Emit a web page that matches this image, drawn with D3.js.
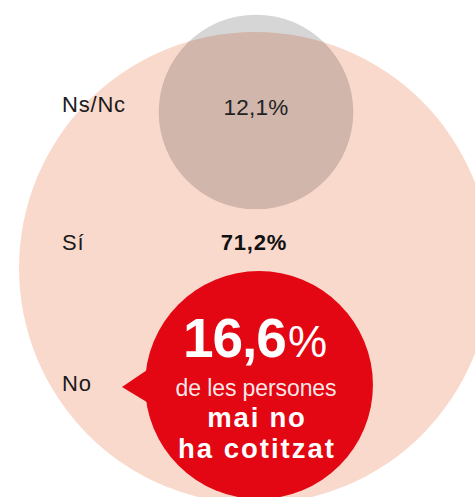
<!DOCTYPE html>
<html>
<head>
<meta charset="utf-8">
<script src="https://cdn.jsdelivr.net/npm/d3@7"></script>
<style>
  html, body { margin: 0; padding: 0; background: #fff; }
  svg { display: block; }
  text { font-family: "Liberation Sans", Arial, Helvetica, sans-serif; }
</style>
</head>
<body>
<div id="chart"></div>
<script>
// Data
const categories = ["Ns/Nc", "Sí", "No"];
const values = [12.1, 71.2, 16.6];
const valueLabels = ["12,1%", "71,2%", "16,6"];
const calloutLines = ["de les persones", "mai no", "ha cotitzat"];

(function () {
const W = 475, H = 497;
const svg = d3.select("#chart").append("svg").attr("width", W).attr("height", H);

const r = d3.scaleSqrt().domain([0, d3.max(values)]).range([0, 236]);

// layout
const bigC = { x: 255, y: 268 };
const topC = { x: 256, y: 112 };
const redC = { x: 259, y: 385 };

// big pink circle (Sí)
svg.append("circle").attr("cx", bigC.x).attr("cy", bigC.y).attr("r", r(values[1]))
  .attr("fill", "#fad9cd");

// grey circle (Ns/Nc)
svg.append("circle").attr("cx", topC.x).attr("cy", topC.y).attr("r", r(values[0]))
  .attr("fill", "#000").attr("fill-opacity", 0.16);

// red bubble (No)
const rr = r(values[2]);
svg.append("circle").attr("cx", redC.x).attr("cy", redC.y).attr("r", rr).attr("fill", "#e30613");
const a1 = Math.PI + 0.15, a2 = Math.PI - 0.17;
const tip = [122, 387];
svg.append("path")
  .attr("d", `M${redC.x + (rr - 3) * Math.cos(a1)},${redC.y + (rr - 3) * Math.sin(a1)} L${tip[0]},${tip[1]} L${redC.x + (rr - 3) * Math.cos(a2)},${redC.y + (rr - 3) * Math.sin(a2)} Z`)
  .attr("fill", "#e30613");

// category labels
const labelY = [112, 250, 391];
svg.selectAll("text.cat").data(categories).join("text")
  .attr("class", "cat")
  .attr("x", 62).attr("y", (d, i) => labelY[i])
  .attr("font-size", 22).attr("fill", "#1a1a1a")
  .attr("letter-spacing", 0.8)
  .text(d => d);

// value labels
svg.append("text").attr("x", topC.x).attr("y", 115).attr("text-anchor", "middle")
  .attr("font-size", 22.5).attr("fill", "#222").attr("letter-spacing", 0.2)
  .text(valueLabels[0]);
svg.append("text").attr("x", 254).attr("y", 250).attr("text-anchor", "middle")
  .attr("font-size", 22).attr("font-weight", "bold").attr("fill", "#111").attr("letter-spacing", 0.8)
  .text(valueLabels[1]);

// callout
const big16 = svg.append("text").attr("x", 255).attr("y", 357).attr("text-anchor", "middle").attr("fill", "#fff");
big16.append("tspan").attr("font-size", 55).attr("font-weight", "bold").attr("letter-spacing", -1).text(valueLabels[2]);
big16.append("tspan").attr("font-size", 44).attr("dx", 2).text("%");

svg.append("text").attr("x", 256).attr("y", 396).attr("text-anchor", "middle")
  .attr("fill", "#fff").attr("fill-opacity", 0.92).attr("font-size", 23).attr("letter-spacing", -0.1)
  .text(calloutLines[0]);
svg.append("text").attr("x", 257).attr("y", 427).attr("text-anchor", "middle")
  .attr("fill", "#fff").attr("font-size", 27.5).attr("font-weight", "bold").attr("letter-spacing", 1.8)
  .text(calloutLines[1]);
svg.append("text").attr("x", 257).attr("y", 458).attr("text-anchor", "middle")
  .attr("fill", "#fff").attr("font-size", 27.5).attr("font-weight", "bold").attr("letter-spacing", 2)
  .text(calloutLines[2]);
})();
</script>
</body>
</html>
